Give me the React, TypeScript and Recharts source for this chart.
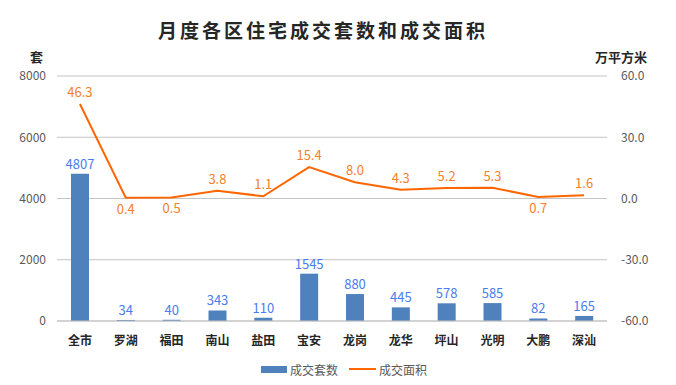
import {
  ComposedChart,
  Bar,
  Line,
  XAxis,
  YAxis,
  CartesianGrid,
  Legend,
  LabelList,
} from "recharts";

const districts = ["全市", "罗湖", "福田", "南山", "盐田", "宝安", "龙岗", "龙华", "坪山", "光明", "大鹏", "深汕"];
const unitsSold = [4807, 34, 40, 343, 110, 1545, 880, 445, 578, 585, 82, 165];
const areaSold = [46.3, 0.4, 0.5, 3.8, 1.1, 15.4, 8.0, 4.3, 5.2, 5.3, 0.7, 1.6];
// labels drawn under the line for these points
const labelBelow = ["罗湖", "福田", "大鹏"];

const leftTicks = [0, 2000, 4000, 6000, 8000];
const rightTicks = [-60, -30, 0, 30, 60];

const BAR_COLOR = "#4F81BD";
const LINE_COLOR = "#FF6600";
const FONT = '"Microsoft YaHei", "Noto Sans CJK SC", sans-serif';

const data = districts.map((name, i) => ({
  name,
  units: unitsSold[i],
  area: areaSold[i],
}));

const AreaLabel = (props: any) => {
  const { x, y, value, index } = props;
  const below = labelBelow.includes(districts[index]);
  return (
    <text
      x={x}
      y={below ? y + 16 : y - 7}
      textAnchor="middle"
      fill="#F6802A"
      fontSize={13}
      fontFamily={FONT}
    >
      {Number(value).toFixed(1)}
    </text>
  );
};

const LegendBox = () => (
  <div
    style={{
      height: 20,
      display: "flex",
      alignItems: "center",
      justifyContent: "center",
      paddingLeft: 12,
      fontFamily: FONT,
      fontSize: 12,
      color: "#595959",
    }}
  >
    <span style={{ display: "inline-block", width: 26, height: 7, background: BAR_COLOR, marginRight: 3 }} />
    <span style={{ marginRight: 11 }}>成交套数</span>
    <span style={{ display: "inline-block", width: 27, height: 2, background: LINE_COLOR, marginRight: 3 }} />
    <span>成交面积</span>
  </div>
);

export default function App() {
  return (
    <div style={{ position: "absolute", left: 0, top: 0, width: 676, height: 385, background: "#fff" }}>
      <div
        style={{
          position: "absolute",
          left: 0,
          top: 16,
          width: 646,
          textAlign: "center",
          fontFamily: FONT,
          fontSize: 19,
          fontWeight: 700,
          letterSpacing: 3,
          color: "#262626",
        }}
      >
        月度各区住宅成交套数和成交面积
      </div>
      <div style={{ position: "absolute", left: 30, top: 47, fontFamily: FONT, fontSize: 13, fontWeight: 700, color: "#262626" }}>
        套
      </div>
      <div style={{ position: "absolute", left: 595, top: 47, fontFamily: FONT, fontSize: 13, fontWeight: 700, color: "#262626" }}>
        万平方米
      </div>
      <ComposedChart
        width={676}
        height={385}
        data={data}
        margin={{ top: 76, right: 0, bottom: 6, left: 0 }}
        barCategoryGap={0}
      >
        <CartesianGrid vertical={false} stroke="#C4C4C4" yAxisId="left" />
        <XAxis
          dataKey="name"
          height={38}
          tickLine={false}
          axisLine={{ stroke: "#C4C4C4" }}
          tickMargin={9}
          tick={{ fill: "#262626", fontSize: 12, fontWeight: 700, fontFamily: FONT }}
          interval={0}
        />
        <YAxis
          yAxisId="left"
          width={57}
          domain={[0, 8000]}
          ticks={leftTicks}
          tickLine={false}
          axisLine={false}
          tickMargin={5}
          tick={{ fill: "#595959", fontSize: 12, fontFamily: FONT }}
        />
        <YAxis
          yAxisId="right"
          orientation="right"
          width={69}
          domain={[-60, 60]}
          ticks={rightTicks}
          tickFormatter={(v: number) => v.toFixed(1)}
          tickLine={false}
          axisLine={false}
          tickMargin={8}
          tick={{ fill: "#595959", fontSize: 12, fontFamily: FONT, textAnchor: "start" }}
        />
        <Legend verticalAlign="bottom" content={<LegendBox />} />
        <Bar yAxisId="left" dataKey="units" name="成交套数" fill={BAR_COLOR} barSize={18} isAnimationActive={false}>
          <LabelList dataKey="units" position="top" offset={5} fill="#4A7CF0" fontSize={13} fontFamily={FONT} />
        </Bar>
        <Line
          yAxisId="right"
          dataKey="area"
          name="成交面积"
          stroke={LINE_COLOR}
          strokeWidth={2}
          dot={false}
          activeDot={false}
          isAnimationActive={false}
        >
          <LabelList dataKey="area" content={<AreaLabel />} />
        </Line>
      </ComposedChart>
    </div>
  );
}
